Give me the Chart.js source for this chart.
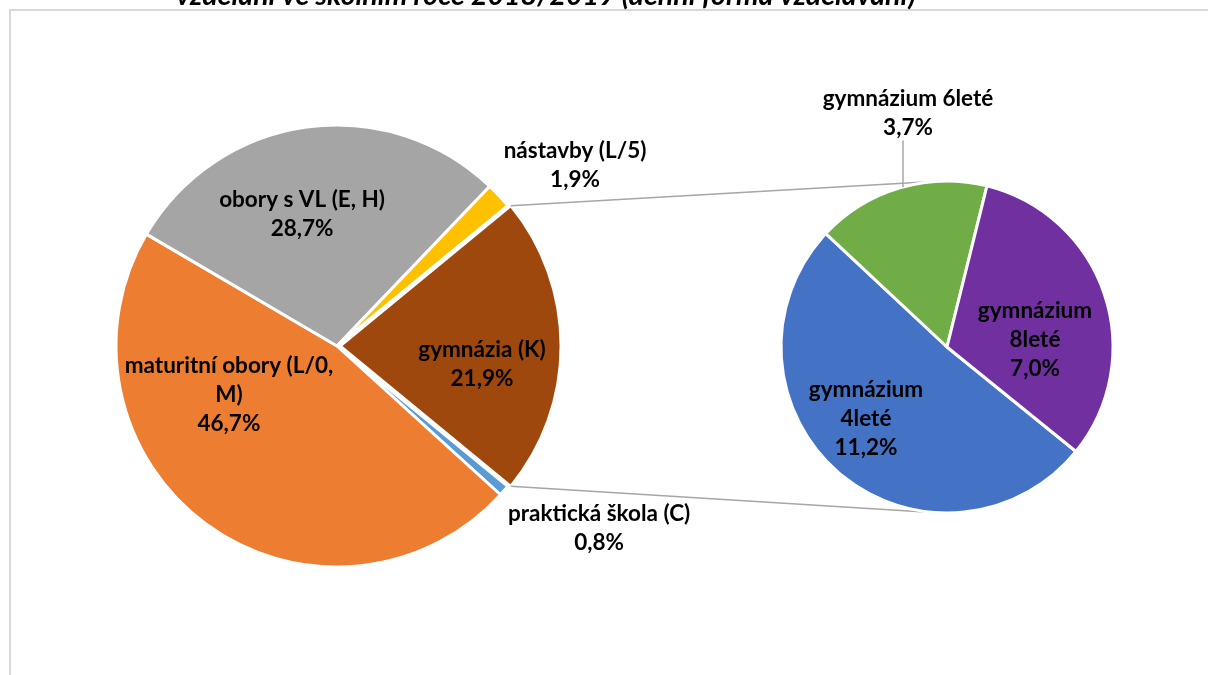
<!DOCTYPE html>
<html lang="cs">
<head>
<meta charset="utf-8">
<title>Pie of pie</title>
<script src="https://cdn.jsdelivr.net/npm/chart.js@4.4.1/dist/chart.umd.min.js"></script>
<style>
  html, body { margin: 0; padding: 0; background: #fff; overflow: hidden; }
  #wrap { position: relative; width: 1208px; height: 675px; overflow: hidden; }
  #frame { position: absolute; left: 9px; top: 9px; width: 1400px; height: 900px; border: 2px solid #d9d9d9; box-sizing: border-box; }
  canvas { position: absolute; left: 0; top: 0; }
  #subPie { pointer-events: none; z-index: 2; }
  #mainPie { z-index: 1; }
</style>
</head>
<body>
<div id="wrap">
  <div id="frame"></div>
  <canvas id="mainPie" width="1208" height="675"></canvas>
  <canvas id="subPie" width="1208" height="675"></canvas>
</div>
<script>
const titleText = 'vzdělání ve školním roce 2018/2019 (denní forma vzdělávání)';

// main pie, clockwise from the "other" slice
const mainLabels = ['gymnázia (K)', 'praktická škola (C)', 'maturitní obory (L/0, M)', 'obory s VL (E, H)', 'nástavby (L/5)'];
const mainValues = [21.9, 0.8, 46.7, 28.7, 1.9];
const mainColors = ['#9E480E', '#5B9BD5', '#ED7D31', '#A5A5A5', '#FFC000'];

// second pie, split of gymnázia (K)
const gymLabels = ['gymnázium 4leté', 'gymnázium 6leté', 'gymnázium 8leté'];
const gymValues = [11.2, 3.7, 7.0];
const gymColors = ['#4472C4', '#70AD47', '#7030A0'];

const labelFont = '700 22.5px Lato, "Open Sans", sans-serif';
const lineHeight = 29;
const leaderColor = '#A6A6A6';

const formatPercent = value => value.toFixed(1).replace('.', ',') + '%';

const wrapText = (ctx, text, maxWidth) => {
  const lines = [];
  let line = '';
  text.split(' ').forEach(word => {
    const test = line ? line + ' ' + word : word;
    if (line && ctx.measureText(test).width > maxWidth) {
      lines.push(line);
      line = word;
    } else {
      line = test;
    }
  });
  lines.push(line);
  return lines;
};

// labels are placed relative to the pie centre, in units of its radius
const sliceLabels = {
  id: 'sliceLabels',
  afterDatasetsDraw(chart, args, opts) {
    const { ctx } = chart;
    const arcs = chart.getDatasetMeta(0).data;
    const values = chart.data.datasets[0].data;
    ctx.save();
    ctx.font = labelFont;
    ctx.fillStyle = '#000';
    ctx.textAlign = 'center';
    ctx.textBaseline = 'middle';
    arcs.forEach((arc, i) => {
      const place = opts.places[i];
      const lines = wrapText(ctx, chart.data.labels[i], place.width);
      lines.push(formatPercent(values[i]));
      const x = arc.x + place.x * arc.outerRadius;
      const y = arc.y + place.y * arc.outerRadius;
      lines.forEach((line, k) => {
        ctx.fillText(line, x, y + (k - (lines.length - 1) / 2) * lineHeight);
      });
      if (place.leader) {
        const lx = x - 5;
        const top = y + ((lines.length - 1) / 2) * lineHeight + 13;
        const dx = lx - arc.x;
        const edge = arc.y - Math.sqrt(arc.outerRadius * arc.outerRadius - dx * dx);
        ctx.beginPath();
        ctx.strokeStyle = leaderColor;
        ctx.lineWidth = 1.5;
        ctx.moveTo(lx, top);
        ctx.lineTo(lx, edge);
        ctx.stroke();
      }
    });
    ctx.restore();
  }
};

const subChart = new Chart(document.getElementById('subPie'), {
  type: 'pie',
  data: {
    labels: gymLabels,
    datasets: [{
      data: gymValues,
      backgroundColor: gymColors,
      borderColor: '#fff',
      borderWidth: 3
    }]
  },
  options: {
    responsive: false,
    animation: false,
    events: [],
    radius: 166,
    rotation: 129,
    layout: { padding: { left: 700, right: 14, top: 29, bottom: 10 } },
    plugins: {
      legend: { display: false },
      tooltip: { enabled: false },
      sliceLabels: {
        places: [
          { x: -0.488, y: 0.434, width: 130 },
          { x: -0.235, y: -1.41, width: 400, leader: true },
          { x: 0.53, y: -0.042, width: 130 }
        ]
      }
    }
  },
  plugins: [sliceLabels]
});

// tangent lines from the edges of the "other" slice to the second pie
const connectors = {
  id: 'connectors',
  afterDatasetsDraw(chart) {
    const { ctx } = chart;
    const arc = chart.getDatasetMeta(0).data[0];
    const sub = subChart.getDatasetMeta(0).data[0];
    const shift = (arc.options.offset || 0) / 4;
    const mid = (arc.startAngle + arc.endAngle) / 2;
    const cx = arc.x + Math.cos(mid) * shift;
    const cy = arc.y + Math.sin(mid) * shift;
    const r = sub.outerRadius;
    ctx.save();
    ctx.strokeStyle = leaderColor;
    ctx.lineWidth = 1.5;
    ctx.beginPath();
    [arc.startAngle, arc.endAngle].forEach((angle, k) => {
      const px = cx + Math.cos(angle) * arc.outerRadius;
      const py = cy + Math.sin(angle) * arc.outerRadius;
      const dx = sub.x - px;
      const dy = sub.y - py;
      const d = Math.hypot(dx, dy);
      const base = Math.atan2(dy, dx);
      const t = Math.asin(r / d);
      const dir = k === 0 ? base - t : base + t;
      const len = Math.sqrt(d * d - r * r);
      ctx.moveTo(px, py);
      ctx.lineTo(px + Math.cos(dir) * len, py + Math.sin(dir) * len);
    });
    ctx.stroke();
    ctx.restore();
  },
  afterDraw(chart) {
    const { ctx } = chart;
    ctx.save();
    ctx.font = 'italic 700 28.5px Lato, "Open Sans", sans-serif';
    ctx.fillStyle = '#000';
    ctx.textAlign = 'center';
    ctx.textBaseline = 'alphabetic';
    ctx.fillText(titleText, 546, 5);
    ctx.restore();
  }
};

const mainTotal = mainValues.reduce((a, b) => a + b, 0);

new Chart(document.getElementById('mainPie'), {
  type: 'pie',
  data: {
    labels: mainLabels,
    datasets: [{
      data: mainValues,
      backgroundColor: mainColors,
      borderColor: '#fff',
      borderWidth: 3,
      offset: [12, 0, 0, 0, 0]
    }]
  },
  options: {
    responsive: false,
    animation: false,
    events: [],
    radius: 221,
    rotation: 90 - (mainValues[0] / mainTotal) * 180,
    layout: { padding: { left: 10, right: 544, top: 27, bottom: 10 } },
    plugins: {
      legend: { display: false },
      tooltip: { enabled: false },
      sliceLabels: {
        places: [
          { x: 0.656, y: 0.081, width: 400 },
          { x: 1.186, y: 0.824, width: 400 },
          { x: -0.489, y: 0.222, width: 222 },
          { x: -0.158, y: -0.597, width: 400 },
          { x: 1.077, y: -0.819, width: 400 }
        ]
      }
    }
  },
  plugins: [connectors, sliceLabels]
});
</script>
</body>
</html>
